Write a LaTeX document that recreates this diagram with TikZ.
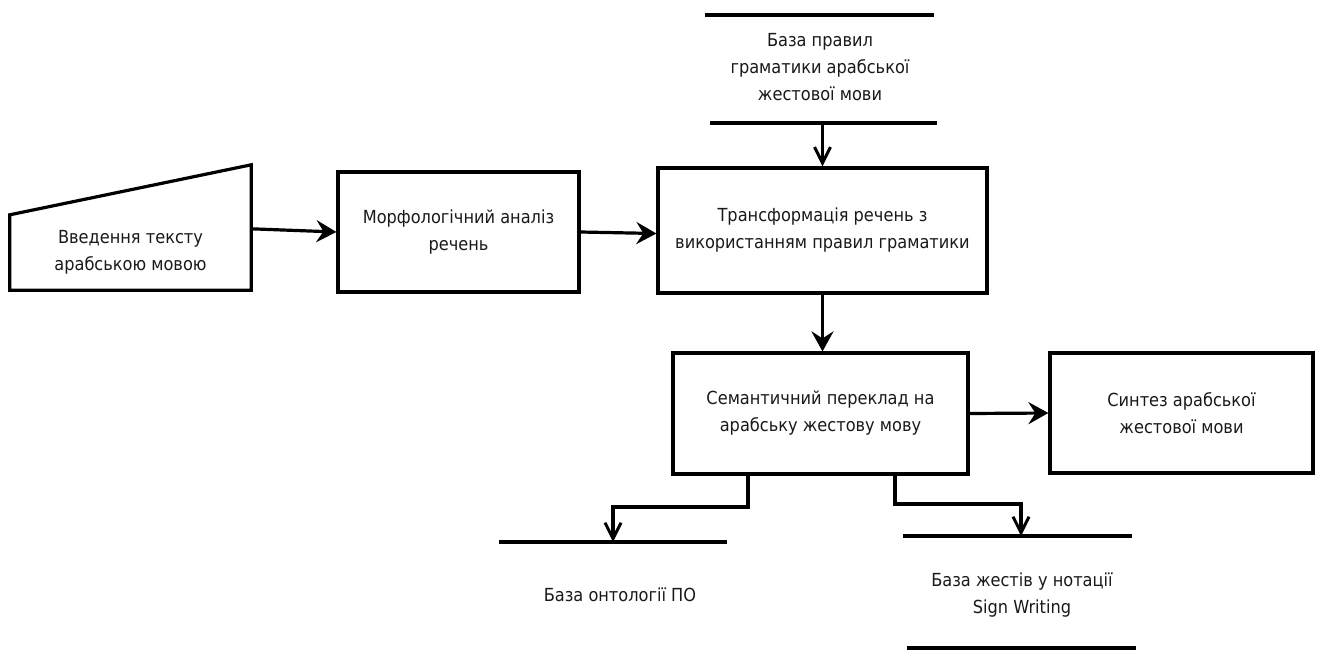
\documentclass[tikz,border=0pt]{standalone}
\usepackage{fontspec}
\setmainfont{DejaVu Sans Condensed}
\usetikzlibrary{arrows.meta,calc}

\begin{document}
\begin{tikzpicture}[x=1pt,y=-1pt,
    every node/.style={font=\fontsize{18}{27}\selectfont, text=black!90, align=center, inner sep=0pt},
    block/.style={draw, line width=3.2pt, rectangle},
    flow/.style={line width=3.2pt, -{Stealth[length=20pt,width=22pt,inset=7pt]}},
    store/.style={line width=3.2pt, -{Straight Barb[length=16pt,width=16pt,line width=3pt]}},
    rule/.style={line width=3.4pt}]
  \useasboundingbox (0,0) rectangle (1319,649);

  % text input (manual input shape)
  \node (input) [minimum width=241pt, minimum height=75pt] at (130.5,252.5)
    {Введення тексту\\арабською мовою};
  \draw[line width=3.2pt, line join=miter]
    (input.south west) -- (input.north west)
    -- ($(input.north east)+(0,-50)$) -- (input.south east) -- cycle;

  % processing blocks
  \node (morph) [block, minimum width=241pt, minimum height=120pt] at (458.5,232)
    {Морфологічний аналіз\\речень};
  \node (transf) [block, minimum width=329pt, minimum height=125pt] at (822.5,230.5)
    {Трансформація речень з\\використанням правил граматики};
  \node (sem) [block, minimum width=295pt, minimum height=121pt] at (820.5,413.5)
    {Семантичний переклад на\\арабську жестову мову};
  \node (synth) [block, minimum width=263pt, minimum height=120pt] at (1181.5,413)
    {Синтез арабської\\жестової мови};

  % data stores
  \coordinate (rulesA) at (705,15);   \coordinate (rulesB) at (934,15);
  \coordinate (rulesC) at (710,123);  \coordinate (rulesD) at (937,123);
  \node (rules) at (820,67) {База правил\\граматики арабської\\жестової мови};

  \coordinate (ontoA) at (499,542);   \coordinate (ontoB) at (727,542);
  \node (onto) at (620,595) {База онтології ПО};

  \coordinate (signA) at (903,536);   \coordinate (signB) at (1132,536);
  \coordinate (signC) at (907,648);   \coordinate (signD) at (1136,648);
  \node (sign) at (1022,595) {База жестів у нотації\\Sign Writing};

  \draw[rule] (rulesA) -- (rulesB);
  \draw[rule] (rulesC) -- (rulesD);
  \draw[rule] (ontoA) -- (ontoB);
  \draw[rule] (signA) -- (signB);
  \draw[rule] (signC) -- (signD);

  % main flow
  \draw[flow] ($(input.north east)+(0,14)$) -- (morph.west);
  \draw[flow] (morph.east) -- ($(transf.west)+(0,3)$);
  \draw[flow] (transf.south) -- (transf.south |- sem.north);
  \draw[flow] (sem.east) -- (synth.west);

  % store access
  \draw[store] (transf.north |- rulesC) -- (transf.north);
  \draw[store, line join=miter] (sem.south -| 748,0) |- (613,507) -- (613,542);
  \draw[store, line join=miter] (sem.south -| 895,0) |- (1021,504) -- (1021,536);
\end{tikzpicture}
\end{document}
